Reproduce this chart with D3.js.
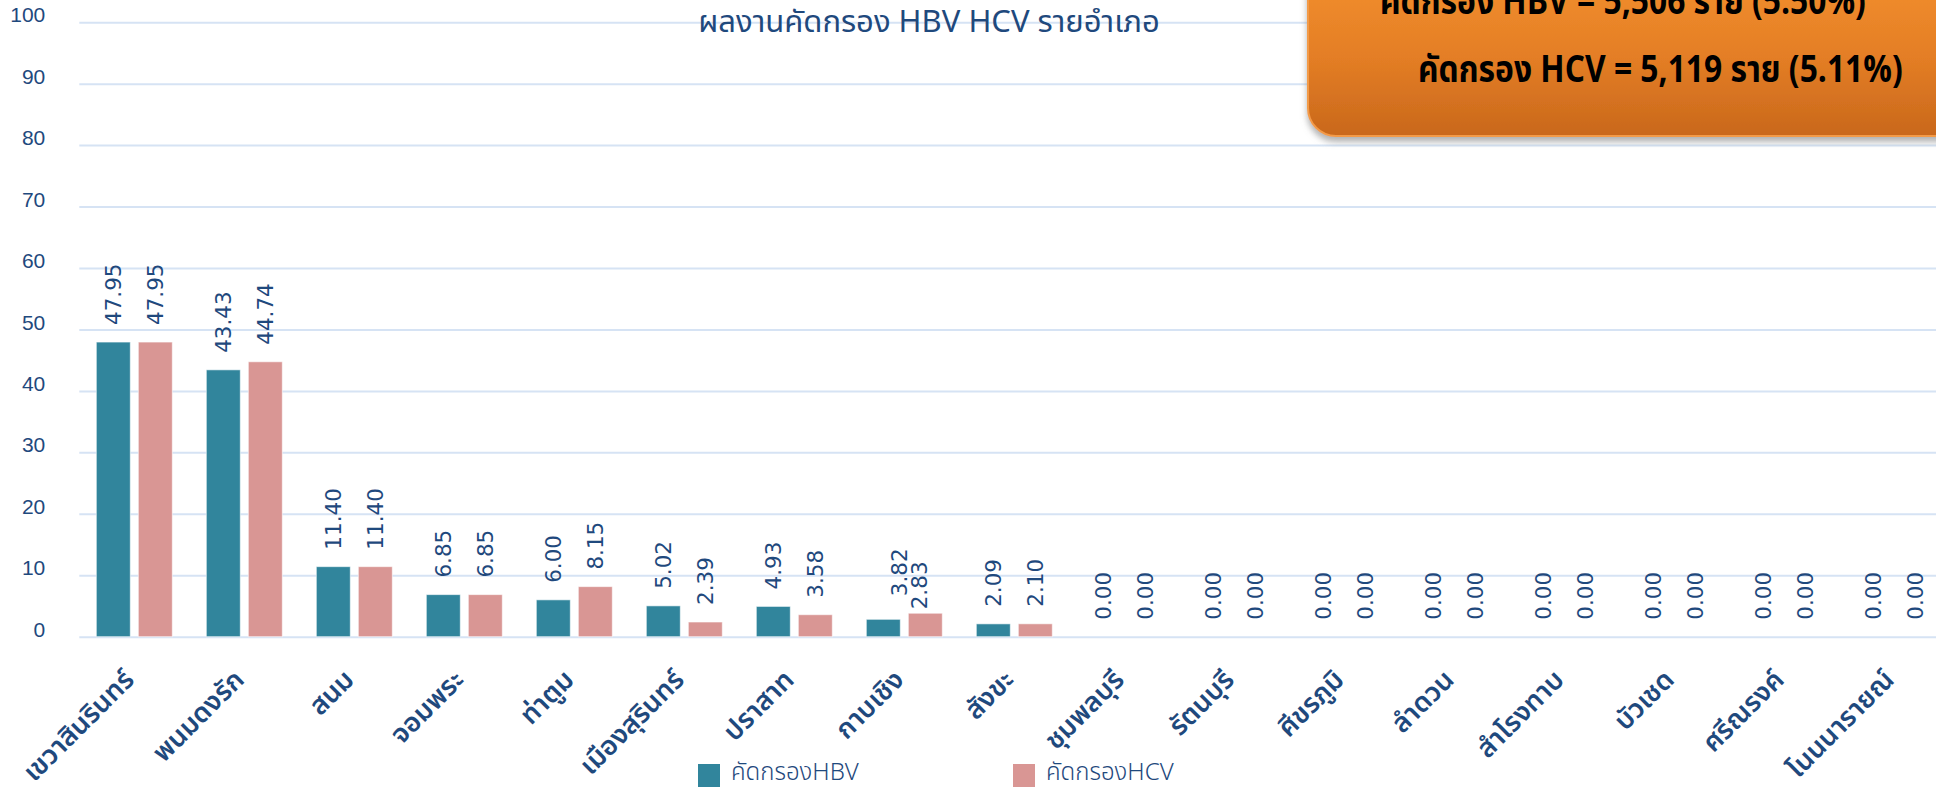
<!DOCTYPE html>
<html>
<head>
<meta charset="utf-8">
<script src="https://cdn.jsdelivr.net/npm/d3@7"></script>
<style>
  body { margin: 0; background: #fff; }
  svg { display: block; }
</style>
</head>
<body>
<div id="chart"></div>
<script>
// District names (x categories)
const districts = ["เขวาสินรินทร์", "พนมดงรัก", "สนม", "จอมพระ", "ท่าตูม", "เมืองสุรินทร์",
    "ปราสาท", "กาบเชิง", "สังขะ", "ชุมพลบุรี", "รัตนบุรี", "ศีขรภูมิ", "ลำดวน",
    "สำโรงทาบ", "บัวเชด", "ศรีณรงค์", "โนนนารายณ์"];

// Screening results (%)
const hbvValues = [47.95, 43.43, 11.40, 6.85, 6.00, 5.02, 4.93, 2.83, 2.09, 0, 0, 0, 0, 0, 0, 0, 0];
const hcvValues = [47.95, 44.74, 11.40, 6.85, 8.15, 2.39, 3.58, 3.82, 2.10, 0, 0, 0, 0, 0, 0, 0, 0];

const seriesNames = ["คัดกรองHBV", "คัดกรองHCV"];
const yTicks = [0, 10, 20, 30, 40, 50, 60, 70, 80, 90, 100];

const chartTitle = "ผลงานคัดกรอง HBV HCV รายอำเภอ";
const summaryLines = ["คัดกรอง HBV = 5,506 ราย (5.50%)", "คัดกรอง HCV = 5,119 ราย (5.11%)"];

// Set up the SVG
const width = 1936, height = 787;
const svg = d3.select("#chart").append("svg")
    .attr("width", width)
    .attr("height", height);

const textBlue = "#1F497D";
const colors = ["#31859C", "#D99694"];
const thaiFont = "'Noto Sans Thai', 'Leelawadee UI', Tahoma, 'DejaVu Sans', sans-serif";

let plotLeft = 79.3;
let bandW = 110;

let x0 = d3.scaleBand()
    .domain(districts)
    .range([plotLeft, plotLeft + bandW * districts.length]);

let x1 = d3.scaleBand()
    .domain(seriesNames)
    .range([17, 93])
    .paddingInner(0.1905);

let y = d3.scaleLinear()
    .domain([0, 100])
    .range([636.7, 22.2]);

// gridlines + y labels
let yAxis = d3.axisLeft(y)
    .tickValues(yTicks)
    .tickSize(-(width - plotLeft))
    .tickPadding(34)
    .tickFormat(d3.format("d"));

let yG = svg.append("g")
    .attr("transform", `translate(${plotLeft}, 0)`)
    .call(yAxis);
yG.select(".domain").remove();
yG.selectAll(".tick line")
    .attr("stroke", "#D6E3F4")
    .attr("stroke-width", 2);
yG.selectAll(".tick text")
    .attr("fill", textBlue)
    .attr("font-family", "'Liberation Sans', Arial, sans-serif")
    .attr("font-size", "21px")
    .attr("dy", "-0.02em");

// title
svg.append("text")
    .attr("x", 929)
    .attr("y", 32)
    .attr("text-anchor", "middle")
    .attr("fill", textBlue)
    .attr("font-family", thaiFont)
    .attr("font-size", "31px")
    .text(chartTitle);

// bars
let rows = districts.map((d, i) => ({ name: d, values: [hbvValues[i], hcvValues[i]] }));

let groups = svg.append("g").selectAll("g")
    .data(rows)
    .enter()
    .append("g")
    .attr("transform", d => `translate(${x0(d.name)}, 0)`);

groups.selectAll("rect")
    .data(d => d.values.map((v, k) => ({ key: seriesNames[k], value: v, k: k })))
    .enter()
    .append("rect")
    .attr("x", d => x1(d.key))
    .attr("y", d => y(d.value))
    .attr("width", x1.bandwidth())
    .attr("height", d => y(0) - y(d.value))
    .attr("fill", d => colors[d.k])
    .attr("stroke", "rgba(255,255,255,0.6)")
    .attr("stroke-width", 1);

// labels that were dragged by hand in the source (กาบเชิง)
const nudge = { "กาบเชิง": [[36, 7], [-26, 0]] };

groups.selectAll("text.val")
    .data(d => d.values.map((v, k) => ({ name: d.name, key: seriesNames[k], value: v, k: k })))
    .enter()
    .append("text")
    .attr("class", "val")
    .attr("transform", d => {
        let off = nudge[d.name] ? nudge[d.name][d.k] : [0, 0];
        let cx = x1(d.key) + x1.bandwidth() / 2 + off[0];
        let cy = y(d.value) - 17 + off[1];
        return `translate(${cx}, ${cy}) rotate(-90)`;
    })
    .attr("text-anchor", "start")
    .attr("dy", "0.36em")
    .attr("fill", textBlue)
    .attr("font-family", "'DejaVu Sans', Verdana, sans-serif")
    .attr("font-size", "21.5px")
    .text(d => d3.format(".2f")(d.value));

// x axis labels
let xAxis = d3.axisBottom(x0).tickSize(0).tickPadding(0);
let xG = svg.append("g")
    .attr("transform", `translate(-12, 668)`)
    .call(xAxis);
xG.select(".domain").remove();
xG.selectAll(".tick text")
    .attr("fill", textBlue)
    .attr("font-family", thaiFont)
    .attr("font-size", "27px")
    .attr("font-weight", "600")
    .attr("text-anchor", "end")
    .attr("dy", "0.7em")
    .attr("transform", "rotate(-45)");

// legend
let legend = svg.append("g").selectAll("g")
    .data(seriesNames)
    .enter()
    .append("g")
    .attr("transform", (d, i) => `translate(${[698, 1013][i]}, 764)`);
legend.append("rect")
    .attr("width", 22)
    .attr("height", 23)
    .attr("fill", (d, i) => colors[i]);
legend.append("text")
    .attr("x", 33)
    .attr("y", 16)
    .attr("fill", textBlue)
    .attr("font-family", thaiFont)
    .attr("font-size", "24px")
    .attr("font-weight", "300")
    .text(d => d);

// orange summary box
let defs = svg.append("defs");
let grad = defs.append("linearGradient")
    .attr("id", "orangeGrad")
    .attr("x1", 0).attr("y1", 0).attr("x2", 0).attr("y2", 1);
grad.append("stop").attr("offset", "0%").attr("stop-color", "#F5922F");
grad.append("stop").attr("offset", "55%").attr("stop-color", "#E47E25");
grad.append("stop").attr("offset", "100%").attr("stop-color", "#C9681C");

let shadow = defs.append("filter")
    .attr("id", "boxShadow")
    .attr("x", "-10%").attr("y", "-10%").attr("width", "130%").attr("height", "140%");
shadow.append("feDropShadow")
    .attr("dx", 0).attr("dy", 5)
    .attr("stdDeviation", 3)
    .attr("flood-color", "#808080")
    .attr("flood-opacity", 0.6);

svg.append("rect")
    .attr("x", 1308)
    .attr("y", -40)
    .attr("width", 720)
    .attr("height", 176)
    .attr("rx", 28)
    .attr("fill", "url(#orangeGrad)")
    .attr("stroke", "#F39A47")
    .attr("stroke-width", 2)
    .attr("filter", "url(#boxShadow)");

// condensed look of the box text
let squeeze = 0.86;
svg.append("g")
    .attr("transform", `scale(${squeeze}, 1)`)
    .selectAll("text")
    .data(summaryLines)
    .enter()
    .append("text")
    .attr("x", (d, i) => [1380, 1418][i] / squeeze)
    .attr("y", (d, i) => [14, 82][i])
    .attr("fill", "#000")
    .attr("font-family", thaiFont)
    .attr("font-weight", "bold")
    .attr("font-size", "37px")
    .text(d => d);
</script>
</body>
</html>
